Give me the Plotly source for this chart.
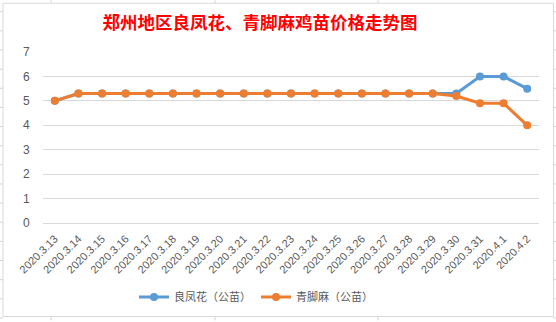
import plotly.graph_objects as go

dates = ["2020.3.13", "2020.3.14", "2020.3.15", "2020.3.16", "2020.3.17", "2020.3.18",
         "2020.3.19", "2020.3.20", "2020.3.21", "2020.3.22", "2020.3.23", "2020.3.24",
         "2020.3.25", "2020.3.26", "2020.3.27", "2020.3.28", "2020.3.29", "2020.3.30",
         "2020.3.31", "2020.4.1", "2020.4.2"]
liangfenghua = [5.0, 5.3, 5.3, 5.3, 5.3, 5.3, 5.3, 5.3, 5.3, 5.3, 5.3, 5.3,
                5.3, 5.3, 5.3, 5.3, 5.3, 5.3, 6.0, 6.0, 5.5]
qingjiaoma = [5.0, 5.3, 5.3, 5.3, 5.3, 5.3, 5.3, 5.3, 5.3, 5.3, 5.3, 5.3,
              5.3, 5.3, 5.3, 5.3, 5.3, 5.2, 4.9, 4.9, 4.0]
y_ticks = [0, 1, 2, 3, 4, 5, 6, 7]

W, H = 556, 322
L, R, T, B = 43, 17, 52, 98
PW, PH = W - L - R, H - T - B

def px(x):
    return (x - L) / PW

def py(y):
    return (H - B - y) / PH

fig = go.Figure()
fig.add_trace(go.Scatter(x=dates, y=liangfenghua, name="良凤花（公苗）", mode="lines+markers",
                         line=dict(color="#5B9BD5", width=3),
                         marker=dict(size=8, color="#5B9BD5")))
fig.add_trace(go.Scatter(x=dates, y=qingjiaoma, name="青脚麻（公苗）", mode="lines+markers",
                         line=dict(color="#ED7D31", width=3),
                         marker=dict(size=8, color="#ED7D31")))

shapes = []
grid_col = "#D4D4D4"
row_y = [11.5 + 19.25 * k for k in range(17)]
for yy in row_y:
    shapes.append(dict(type="line", xref="paper", yref="paper", x0=px(0), x1=px(3), y0=py(yy), y1=py(yy),
                       line=dict(color=grid_col, width=1), layer="below"))
    shapes.append(dict(type="line", xref="paper", yref="paper", x0=px(553), x1=px(556), y0=py(yy), y1=py(yy),
                       line=dict(color=grid_col, width=1), layer="below"))
for xx in [51, 215, 378]:
    shapes.append(dict(type="line", xref="paper", yref="paper", x0=px(xx), x1=px(xx), y0=py(0), y1=py(3),
                       line=dict(color=grid_col, width=1), layer="below"))
    shapes.append(dict(type="line", xref="paper", yref="paper", x0=px(xx), x1=px(xx), y0=py(318), y1=py(322),
                       line=dict(color=grid_col, width=1), layer="below"))
shapes.append(dict(type="rect", xref="paper", yref="paper", x0=px(3), x1=px(553.5), y0=py(3), y1=py(318),
                   line=dict(color="#D9D9D9", width=1), fillcolor="rgba(0,0,0,0)", layer="below"))

fig.update_layout(
    width=W, height=H,
    margin=dict(l=L, r=R, t=T, b=B),
    paper_bgcolor="white", plot_bgcolor="white",
    title=dict(text="郑州地区良凤花、青脚麻鸡苗价格走势图", xref="container", x=260 / W, xanchor="center",
               yref="container", y=1 - 23 / H, yanchor="middle",
               font=dict(family="Noto Sans CJK SC", size=17.5, color="#FF0000", weight="bold")),
    xaxis=dict(type="category", range=[-0.5, len(dates) - 0.5], tickangle=-45,
               showgrid=False, showline=False, ticks="outside", ticklen=4, tickcolor="rgba(0,0,0,0)",
               tickfont=dict(family="Liberation Sans", size=11, color="#595959")),
    yaxis=dict(range=[0, 7], tickvals=y_ticks, showgrid=True, gridcolor="#D9D9D9", gridwidth=1,
               zeroline=True, zerolinecolor="#D9D9D9", zerolinewidth=1, showline=False,
               ticks="outside", ticklen=10, tickcolor="rgba(0,0,0,0)",
               tickfont=dict(family="Liberation Sans", size=12, color="#595959")),
    legend=dict(orientation="h", x=px(256), xanchor="center", y=py(297), yanchor="middle",
                font=dict(family="Noto Sans CJK SC", size=11, color="#595959"),
                itemwidth=30, bgcolor="rgba(0,0,0,0)"),
    shapes=shapes,
    showlegend=True,
)

fig.write_html("out.html")
